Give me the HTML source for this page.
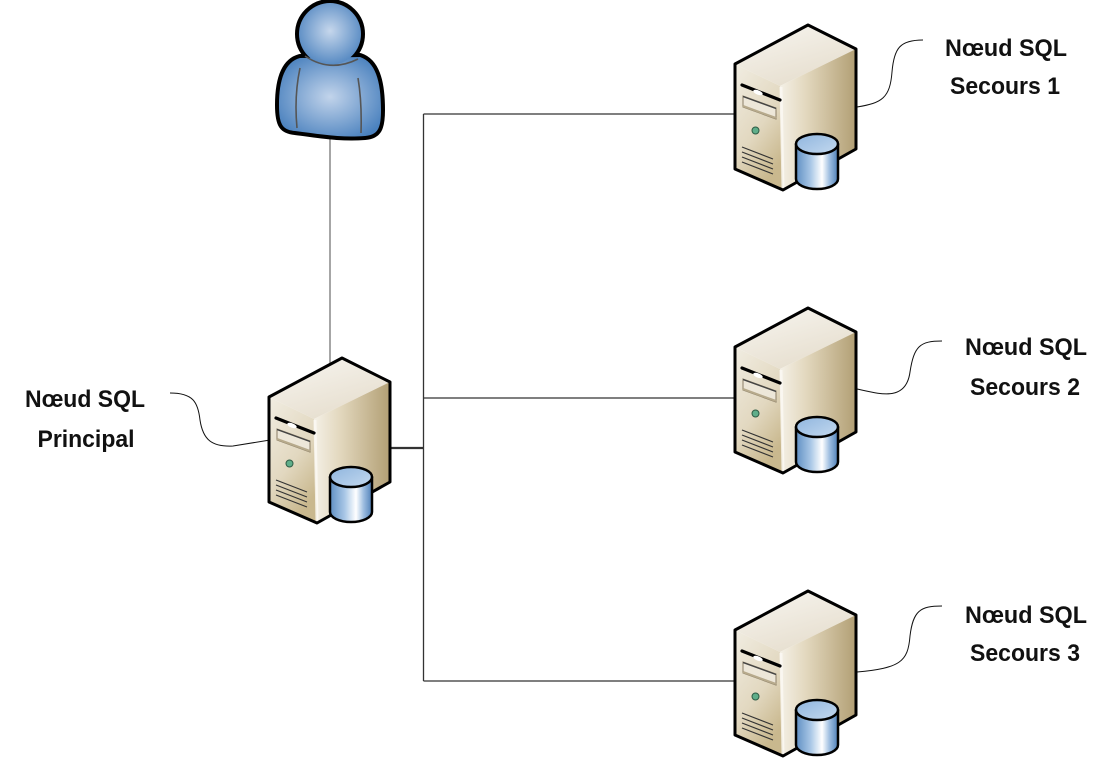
<!DOCTYPE html>
<html>
<head>
<meta charset="utf-8">
<style>
  html, body { margin: 0; padding: 0; background: #ffffff; }
  svg { display: block; }
  text { font-family: "Liberation Sans", "DejaVu Sans", sans-serif; font-weight: bold; font-size: 24px; fill: #111; }
</style>
</head>
<body>
<svg width="1113" height="763" viewBox="0 0 1113 763" xmlns="http://www.w3.org/2000/svg">
  <defs>
    <linearGradient id="gTop" x1="0" y1="0" x2="0.6" y2="1">
      <stop offset="0" stop-color="#f8f6f1"/>
      <stop offset="1" stop-color="#e6dece"/>
    </linearGradient>
    <linearGradient id="gFront" x1="0" y1="0" x2="0.5" y2="1">
      <stop offset="0" stop-color="#f1ede2"/>
      <stop offset="0.6" stop-color="#e2d8c0"/>
      <stop offset="1" stop-color="#c9b88e"/>
    </linearGradient>
    <linearGradient id="gSide" x1="0" y1="0" x2="1" y2="0">
      <stop offset="0" stop-color="#f4f0e6"/>
      <stop offset="0.35" stop-color="#e2d7bd"/>
      <stop offset="1" stop-color="#b29f74"/>
    </linearGradient>
    <linearGradient id="gCyl" x1="0" y1="0" x2="1" y2="0">
      <stop offset="0" stop-color="#5f8fc3"/>
      <stop offset="0.35" stop-color="#a9c7e6"/>
      <stop offset="0.62" stop-color="#ffffff"/>
      <stop offset="0.8" stop-color="#9dbde0"/>
      <stop offset="1" stop-color="#4f80b8"/>
    </linearGradient>
    <linearGradient id="gCylTop" x1="0" y1="0" x2="1" y2="1">
      <stop offset="0" stop-color="#8fb5de"/>
      <stop offset="1" stop-color="#c4d9ef"/>
    </linearGradient>
    <radialGradient id="gHead" cx="0.5" cy="0.45" r="0.6">
      <stop offset="0" stop-color="#c6d7ec"/>
      <stop offset="1" stop-color="#4d83bf"/>
    </radialGradient>
    <radialGradient id="gBody" cx="0.5" cy="0.5" r="0.6">
      <stop offset="0" stop-color="#c2d4eb"/>
      <stop offset="1" stop-color="#4a81be"/>
    </radialGradient>

    <g id="srv">
      <path d="M0,40 L73,1 L121,25 L45,62 Z" fill="url(#gTop)"/>
      <path d="M0,40 L45,62 L48,166 L0,145 Z" fill="url(#gFront)"/>
      <path d="M45,62 L121,25 L121,125 L48,166 Z" fill="url(#gSide)"/>
      <path d="M46,63 L48,165" stroke="#fbf9f4" stroke-width="3" fill="none" opacity="0.8"/>
      <path d="M0,40 L73,1 L121,25 L121,125 L48,166 L0,145 Z" fill="none" stroke="#000" stroke-width="3" stroke-linejoin="round"/>
      <!-- slot -->
      <path d="M7,61 L45,76" stroke="#000" stroke-width="3.2" stroke-linecap="round"/>
      <ellipse cx="23" cy="68.5" rx="5" ry="2.2" fill="#ffffff" transform="rotate(22 23 68.5)"/>
      <!-- drive bay -->
      <path d="M8,72 L41,84 L41,95 L8,83 Z" fill="#ede7d9" stroke="#8a7e66" stroke-width="1"/>
      <path d="M8,72.5 L41,84.5" stroke="#444" stroke-width="1.4"/>
      <path d="M8,82 L41,94" stroke="#b7aa8c" stroke-width="2"/>
      <!-- LED -->
      <circle cx="20.5" cy="106.5" r="3.5" fill="#5fae8a" stroke="#2d5c45" stroke-width="1"/>
      <!-- vents -->
      <path d="M7,123 L38,135 M7,128 L38,140 M7,133 L38,145 M7,138 L38,150" stroke="#333" stroke-width="1.2" fill="none"/>
      <!-- cylinder -->
      <path d="M61,120 L61,155 A21,10 0 0 0 103,155 L103,120 Z" fill="url(#gCyl)" stroke="#000" stroke-width="2.5" stroke-linejoin="round"/>
      <ellipse cx="82" cy="120" rx="21" ry="10" fill="url(#gCylTop)" stroke="#000" stroke-width="2.5"/>
    </g>
  </defs>

  <!-- connectors -->
  <g stroke="#333" stroke-width="1.3" fill="none">
    <path d="M330,138 L330,366" stroke="#777"/>
    <path d="M423.5,114 L423.5,681"/>
    <path d="M423.5,114 L736,114"/>
    <path d="M423.5,398 L736,398"/>
    <path d="M423.5,681 L736,681"/>
    <path d="M388,448 L424,448" stroke-width="2.2"/>
  </g>

  <!-- leader curves -->
  <g stroke="#111" stroke-width="1" fill="none">
    <path d="M857,107 C 882,103 890,98 892,72 C 894,48 900,40 923,40"/>
    <path d="M857,389 C 880,394 906,402 910,372 C 914,346 920,341 942,341"/>
    <path d="M857,672 C 900,668 908,662 910,636 C 913,611 920,606 942,606"/>
    <path d="M170,393 C 193,393 198,402 200,420 C 203,440 212,447 233,446 L270,440"/>
  </g>

  <!-- person -->
  <g>
    <path d="M300,58 C 285,62 279,80 279,105 C 279,125 283,130 295,131 C 320,134 340,138 365,136 C 378,135 381,128 381,110 C 381,80 375,62 360,57 Z" fill="#000" stroke="#000" stroke-width="8" stroke-linejoin="round"/>
    <circle cx="330" cy="34" r="31" fill="#000" stroke="#000" stroke-width="8"/>
    <path d="M300,58 C 285,62 279,80 279,105 C 279,125 283,130 295,131 C 320,134 340,138 365,136 C 378,135 381,128 381,110 C 381,80 375,62 360,57 Z" fill="url(#gBody)"/>
    <circle cx="330" cy="34" r="31" fill="url(#gHead)"/>
    <path d="M305,56 Q330,73 358,59" stroke="#555" stroke-width="1.6" fill="none"/>
    <path d="M300,68 Q294,96 297,128" stroke="#555" stroke-width="1.6" fill="none"/>
    <path d="M358,78 Q362,102 361,133" stroke="#555" stroke-width="1.6" fill="none"/>
  </g>

  <!-- servers -->
  <use href="#srv" x="269" y="357"/>
  <use href="#srv" x="735" y="24"/>
  <use href="#srv" x="735" y="307"/>
  <use href="#srv" x="735" y="590"/>

  <!-- labels -->
  <text x="1006" y="56" text-anchor="middle" textLength="122" lengthAdjust="spacingAndGlyphs">Nœud SQL</text>
  <text x="1005" y="94" text-anchor="middle" textLength="110" lengthAdjust="spacingAndGlyphs">Secours 1</text>
  <text x="1026" y="355" text-anchor="middle" textLength="122" lengthAdjust="spacingAndGlyphs">Nœud SQL</text>
  <text x="1025" y="395" text-anchor="middle" textLength="110" lengthAdjust="spacingAndGlyphs">Secours 2</text>
  <text x="1026" y="623" text-anchor="middle" textLength="122" lengthAdjust="spacingAndGlyphs">Nœud SQL</text>
  <text x="1025" y="661" text-anchor="middle" textLength="110" lengthAdjust="spacingAndGlyphs">Secours 3</text>
  <text x="85" y="407" text-anchor="middle" textLength="120" lengthAdjust="spacingAndGlyphs">Nœud SQL</text>
  <text x="86" y="447" text-anchor="middle" textLength="97" lengthAdjust="spacingAndGlyphs">Principal</text>
</svg>
</body>
</html>
